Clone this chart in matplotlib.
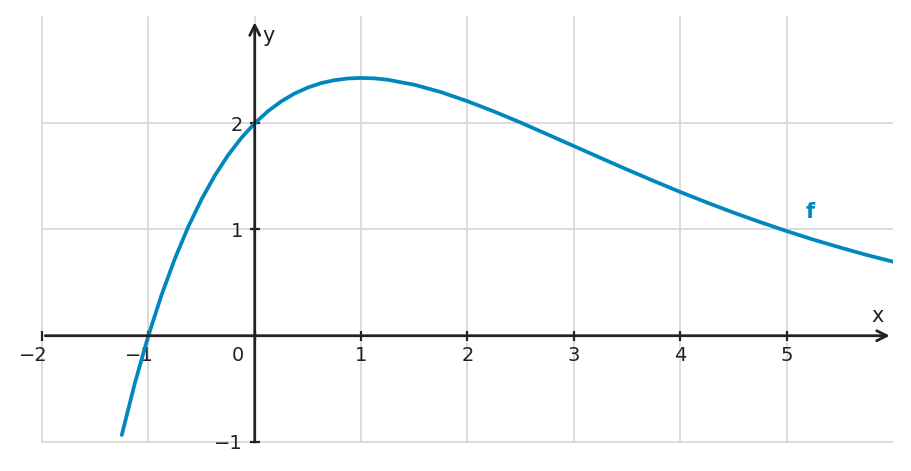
import matplotlib.pyplot as plt
import matplotlib.transforms as mtransforms

xs = [-1.25, -1.125, -1.0, -0.875, -0.75, -0.625, -0.5, -0.375, -0.25, -0.125,
      0.0, 0.125, 0.25, 0.375, 0.5, 0.625, 0.75, 0.875, 1.0, 1.125, 1.25,
      1.5, 1.75, 2.0, 2.25, 2.5, 2.75, 3.0, 3.25, 3.5, 3.75, 4.0, 4.25,
      4.5, 4.75, 5.0, 5.25, 5.5, 5.75, 6.0]
ys = [-0.934, -0.439, 0.0, 0.387, 0.727, 1.025, 1.284, 1.508, 1.700, 1.863,
      2.0, 2.114, 2.206, 2.280, 2.336, 2.378, 2.405, 2.421, 2.426, 2.422, 2.409,
      2.362, 2.293, 2.207, 2.110, 2.006, 1.896, 1.785, 1.674, 1.564, 1.457, 1.353, 1.254,
      1.159, 1.070, 0.985, 0.905, 0.831, 0.761, 0.697]

xticks = [-2, -1, 0, 1, 2, 3, 4, 5]
xlabels = ['−2', '−1', '0', '1', '2', '3', '4', '5']
yticks = [-1, 1, 2]
ylabels = ['−1', '1', '2']

blue = '#0087bd'
dark = '#222222'

fig = plt.figure(figsize=(9.11, 4.71), dpi=100)
ax = fig.add_axes([0.0461, 0.0616, 0.9341, 0.9024])
ax.set_xlim(-2, 6)
ax.set_ylim(-1, 3.0)

for gx in xticks:
    ax.axvline(gx, color='#d6d6d6', lw=1.2, zorder=0, clip_on=False)
ax.axhline(-1, color='#d6d6d6', lw=1.2, zorder=0, clip_on=False)
ax.axhline(1, color='#d6d6d6', lw=1.2, zorder=0)
ax.axhline(2, color='#d6d6d6', lw=1.2, zorder=0)

ax.plot(xs, ys, color=blue, lw=2.7, solid_capstyle='round', zorder=3)

for s in ['top', 'right', 'left', 'bottom']:
    ax.spines[s].set_visible(False)
ax.spines['left'].set_position(('data', 0))
ax.spines['bottom'].set_position(('data', 0))

# axes with arrows
ax.annotate('', xy=(5.97, 0), xytext=(-1.97, 0),
            arrowprops=dict(arrowstyle='->', lw=2.0, color=dark, mutation_scale=18,
                            shrinkA=0, shrinkB=0), zorder=4)
ax.annotate('', xy=(0, 2.95), xytext=(0, -1),
            arrowprops=dict(arrowstyle='->', lw=2.0, color=dark, mutation_scale=18,
                            shrinkA=0, shrinkB=0), zorder=4)

ax.set_xticks(xticks)
ax.set_xticklabels(xlabels)
ax.set_yticks(yticks)
ax.set_yticklabels(ylabels)
ax.tick_params(direction='inout', length=7, width=1.6, color=dark,
               labelsize=14, labelcolor=dark)
ax.tick_params(axis='x', pad=4)
ax.tick_params(axis='y', pad=5)

for lab, v in zip(ax.get_xticklabels(), xticks):
    if v < 0:
        dx = -9
    elif v == 0:
        dx = -17
    else:
        dx = 0
    lab.set_transform(lab.get_transform() +
                      mtransforms.ScaledTranslation(dx / 100, 0, fig.dpi_scale_trans))

ax.text(5.86, 0.19, 'x', fontsize=15, color=dark, ha='center', va='center')
ax.text(0.13, 2.82, 'y', fontsize=15, color=dark, ha='center', va='center')
ax.text(5.22, 1.16, 'f', fontsize=15, color=blue, fontweight='bold', ha='center', va='center')

fig.savefig('out.png', dpi=100)
